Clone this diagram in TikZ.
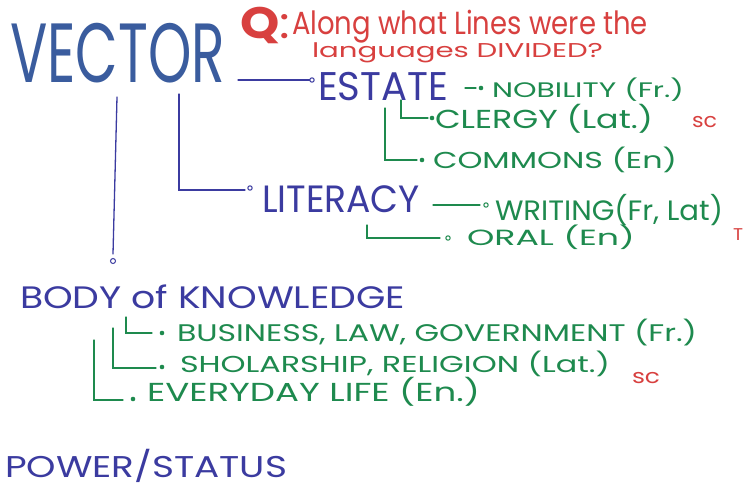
\documentclass[tikz,border=0pt]{standalone}
\usepackage{fontspec}
\setmainfont{Poppins}
\usepackage{graphicx}
\definecolor{vblue}{HTML}{3A5C9E}
\definecolor{iblue}{HTML}{3B3BA0}
\definecolor{mgreen}{HTML}{1E8A4E}
\definecolor{mred}{HTML}{D8403F}
\newcommand{\hw}[3]{\resizebox{#1pt}{\height}{\fontsize{#2pt}{#2pt}\selectfont #3}}
\tikzset{
  txt/.style={anchor=base west, inner sep=0pt, outer sep=0pt},
  bline/.style={draw=iblue, line width=1.3pt, line cap=round},
  gline/.style={draw=mgreen, line width=1.3pt, line cap=round},
  odot/.style={draw=iblue, fill=white, line width=1pt},
  gdot/.style={fill=mgreen},
}
\begin{document}
\begin{tikzpicture}[x=1pt,y=-1pt]
\useasboundingbox[fill=white] (0,0) rectangle (755,490);
% titles
\node[txt, text=vblue] (vector) at (10,82) {\hw{215}{84}{VECTOR}};
\node[txt, text=mred] (q) at (240,38) {\hw{50}{44}{\textbf{Q}:}};
\node[txt, text=mred] (q1) at (292,34) {\hw{356}{32}{Along what Lines were the}};
\node[txt, text=mred] (q2) at (312,57) {\hw{291}{20}{languages DIVIDED?}};
% estate
\node[txt, text=iblue] (estate) at (318,100) {\hw{130}{40}{ESTATE}};
\node[txt, text=mgreen] (nob) at (492,97) {\hw{192}{21}{NOBILITY (Fr.)}};
\node[txt, text=mgreen] (cler) at (435,128) {\hw{218}{26}{CLERGY (Lat.)}};
\node[txt, text=mgreen] (comm) at (433,168) {\hw{244}{23}{COMMONS (En)}};
\node[txt, text=mred] (sc1) at (692,127) {\hw{25}{20}{sc}};
% literacy
\node[txt, text=iblue] (lit) at (262,212) {\hw{158}{38}{LITERACY}};
\node[txt, text=mgreen] (wri) at (495,220) {\hw{228}{28}{WRITING(Fr, Lat)}};
\node[txt, text=mgreen] (oral) at (467,245) {\hw{168}{22}{ORAL (En)}};
\node[txt, text=mred] (t) at (733,240) {\hw{10}{17}{T}};
% body of knowledge
\node[txt, text=iblue] (body) at (20,308) {\hw{385}{31}{BODY of KNOWLEDGE}};
\node[txt, text=mgreen] (bus) at (177,341) {\hw{520}{24}{BUSINESS, LAW, GOVERNMENT (Fr.)}};
\node[txt, text=mgreen] (sho) at (180,372) {\hw{430}{23}{SHOLARSHIP, RELIGION (Lat.)}};
\node[txt, text=mred] (sc2) at (632,383) {\hw{28}{20}{sc}};
\node[txt, text=mgreen] (eve) at (147,401) {\hw{333}{26}{EVERYDAY LIFE (En.)}};
% power
\node[txt, text=iblue] (pow) at (5,477) {\hw{282}{30}{POWER/STATUS}};
% coordinates
\coordinate (v0) at (238,80);
\coordinate (d1) at (312,80);
\coordinate (va) at (117,97);
\coordinate (vb) at (113,254);
\coordinate (d2) at (113,261);
\coordinate (wa) at (179,94);
\coordinate (wb) at (179,190);
\coordinate (wc) at (245,190);
\coordinate (d3) at (250,188);
\coordinate (na) at (465,88);
\coordinate (nb) at (476,88);
\coordinate (d4) at (481,88);
\coordinate (ca) at (401,100);
\coordinate (cb) at (401,118);
\coordinate (cc) at (428,118);
\coordinate (d5) at (432,118);
\coordinate (ma) at (385,108);
\coordinate (mb) at (385,160);
\coordinate (mc) at (417,160);
\coordinate (d6) at (422,160);
\coordinate (la) at (433,205);
\coordinate (lb) at (480,205);
\coordinate (d7) at (486,205);
\coordinate (oa) at (367,225);
\coordinate (ob) at (367,238);
\coordinate (oc) at (440,238);
\coordinate (d8) at (448,238);
\coordinate (ba) at (126,317);
\coordinate (bb) at (126,333);
\coordinate (bc) at (152,333);
\coordinate (d9) at (162,333);
\coordinate (sa) at (113,328);
\coordinate (sb) at (113,368);
\coordinate (sd) at (156,368);
\coordinate (d10) at (162,367);
\coordinate (ea) at (94,340);
\coordinate (eb) at (94,400);
\coordinate (ec) at (123,400);
\coordinate (d11) at (133,399);
% blue connectors
\draw[bline] (v0) -- (d1);
\draw[bline] (va) -- (vb);
\draw[bline] (wa) -- (wb) -- (wc);
\draw[odot] (d1) circle (2.2);
\draw[odot] (d2) circle (2.5);
\draw[odot] (d3) circle (2.2);
% green connectors
\draw[gline] (na) -- (nb);
\draw[gline] (ca) -- (cb) -- (cc);
\draw[gline] (ma) -- (mb) -- (mc);
\draw[gline] (la) -- (lb);
\draw[gline] (oa) -- (ob) -- (oc);
\draw[gline] (ba) -- (bb) -- (bc);
\draw[gline] (sa) -- (sb) -- (sd);
\draw[gline] (ea) -- (eb) -- (ec);
\foreach \d in {d4,d5,d6,d9,d10,d11} \fill[gdot] (\d) circle (2.3);
\foreach \d in {d7,d8} \draw[draw=mgreen, fill=white, line width=1pt] (\d) circle (2.2);
\end{tikzpicture}
\end{document}
